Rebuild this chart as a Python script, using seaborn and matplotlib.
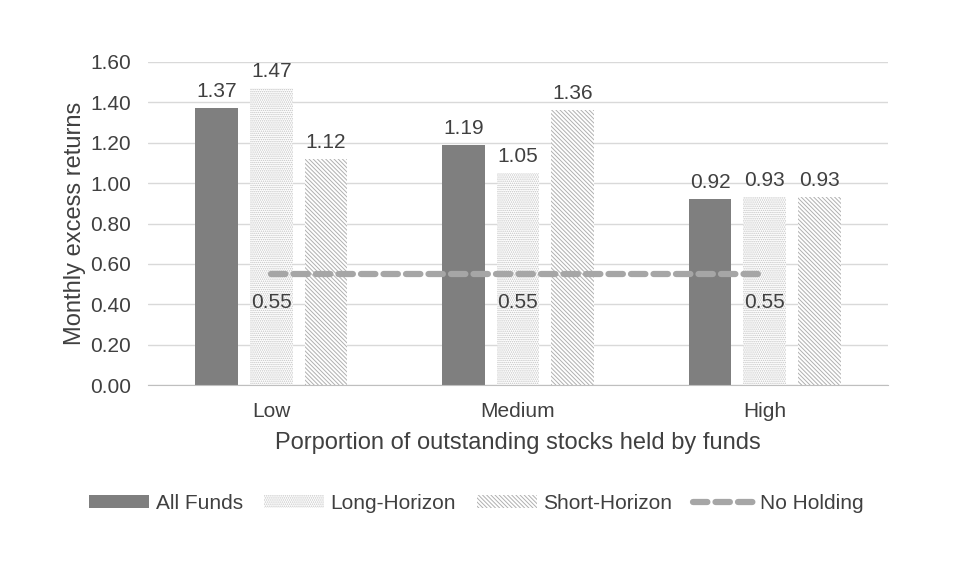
import pandas as pd
import numpy as np
import matplotlib
matplotlib.use('Agg')
import matplotlib.pyplot as plt
from matplotlib.patches import Patch
from matplotlib.lines import Line2D
import seaborn as sns

categories = ['Low', 'Medium', 'High']
series = ['All Funds', 'Long-Horizon', 'Short-Horizon']
all_funds = [1.37, 1.19, 0.92]
long_horizon = [1.47, 1.05, 0.93]
short_horizon = [1.12, 1.36, 0.93]
no_holding = [0.55, 0.55, 0.55]

sns.set_style('white')
plt.rcParams['font.family'] = ['Liberation Sans', 'DejaVu Sans']
plt.rcParams['hatch.linewidth'] = 0.7

TXT = '#404040'
GRID = '#d9d9d9'
DOTS = '.' * 8
DIAG = '\\' * 8

df = pd.DataFrame({
    'cat': categories * 3,
    'series': [s for s in series for _ in categories],
    'value': all_funds + long_horizon + short_horizon,
})

fig = plt.figure(figsize=(9.6, 5.68), dpi=100)
ax = fig.add_axes([0.154, 0.322, 0.771, 0.569])

sns.barplot(data=df, x='cat', y='value', hue='series', order=categories,
            hue_order=series, width=0.665, gap=0.22, ax=ax, legend=False,
            palette=['#7f7f7f', 'white', 'white'], saturation=1, errorbar=None)

styles = {
    'All Funds': dict(fc='#7f7f7f', ec='#7f7f7f', hatch=None),
    'Long-Horizon': dict(fc='white', ec='#c4c4c4', hatch=DOTS),
    'Short-Horizon': dict(fc='white', ec='#b0b0b0', hatch=DIAG),
}
for container, name in zip(ax.containers, series):
    st = styles[name]
    for bar in container:
        bar.set_facecolor(st['fc'])
        bar.set_edgecolor(st['ec'])
        bar.set_linewidth(0)
        if st['hatch']:
            bar.set_hatch(st['hatch'])
    for bar in container:
        h = bar.get_height()
        ax.text(bar.get_x() + bar.get_width() / 2, h + 0.035, f'{h:.2f}',
                ha='center', va='bottom', fontsize=15, color=TXT)

x = np.arange(len(categories))
ax.plot(x, no_holding, color='#a6a6a6', linewidth=4.5, linestyle=(0, (2.3, 1.3)),
        dash_capstyle='round', zorder=5)
for xi, v in zip(x, no_holding):
    ax.text(xi, v - 0.14, f'{v:.2f}', ha='center', va='center', fontsize=15, color=TXT)

ticks = np.arange(0, 1.61, 0.2)
ax.set_ylim(0, 1.6)
ax.set_yticks(ticks)
ax.set_yticklabels([f'{t:.2f}' for t in ticks])
ax.set_xlim(-0.5, 2.5)
ax.yaxis.grid(True, color=GRID, linewidth=1)
ax.set_axisbelow(True)
for s in ['top', 'right', 'left']:
    ax.spines[s].set_visible(False)
ax.spines['bottom'].set_color('#bfbfbf')
ax.tick_params(axis='y', length=0, labelsize=15, colors=TXT, pad=12)
ax.tick_params(axis='x', length=0, labelsize=15, colors=TXT, pad=12)
ax.set_xlabel('Porportion of outstanding stocks held by funds', fontsize=17, color=TXT, labelpad=8)
ax.set_ylabel('Monthly excess returns', fontsize=17, color=TXT, labelpad=3)

handles = [
    Patch(fc='#7f7f7f', ec='#7f7f7f', lw=0),
    Patch(fc='white', ec='#c4c4c4', hatch=DOTS, lw=0),
    Patch(fc='white', ec='#b0b0b0', hatch=DIAG, lw=0),
    Line2D([0], [0], color='#a6a6a6', lw=4.5, linestyle=(0, (2.3, 1.3)), dash_capstyle='round'),
]
fig.legend(handles, ['All Funds', 'Long-Horizon', 'Short-Horizon', 'No Holding'],
           loc='center', bbox_to_anchor=(0.496, 0.114), ncol=4, frameon=False,
           fontsize=15, handlelength=2.9, handleheight=0.6, columnspacing=1.0,
           handletextpad=0.3, labelcolor=TXT)

fig.savefig('out.png', dpi=100, facecolor='white')
